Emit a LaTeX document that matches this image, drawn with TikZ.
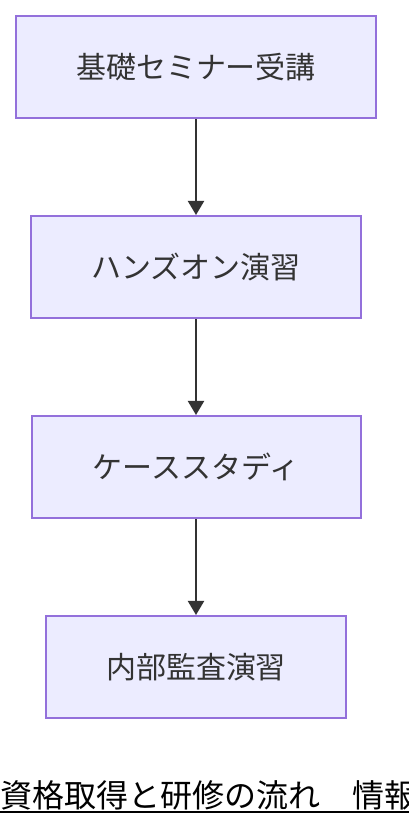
\documentclass[tikz,border=0pt]{standalone}
\usepackage{fontspec}
\setmainfont{Noto Sans CJK JP}
\usetikzlibrary{positioning,arrows.meta}
\definecolor{boxfill}{HTML}{ECECFF}
\definecolor{boxline}{HTML}{9370DB}
\definecolor{ink}{HTML}{333333}
\begin{document}
\begin{tikzpicture}[x=1pt,y=1pt,node distance=96pt,
    procbox/.style={draw=boxline,fill=boxfill,line width=2pt,text=ink,
      font=\fontsize{30}{36}\selectfont,minimum height=102pt,inner xsep=60pt},
    flow/.style={-{Triangle[width=16pt,length=14pt]},draw=ink,line width=2pt}]
      \useasboundingbox (0,0) rectangle (408,828);
      \node[procbox] (0) at (196,761) {基礎セミナー受講};
      \node[procbox,below=of 0] (1) {ハンズオン演習};
      \node[procbox,below=of 1,minimum width=329pt] (2) {ケーススタディ};
      \node[procbox,below=of 2] (3) {内部監査演習};
      \begin{scope}[flow]
        \draw (0) to (1);
        \draw (1) to (2);
        \draw (2) to (3);
      \end{scope}
      \node[anchor=base west,inner sep=0pt,font=\fontsize{32}{38}\selectfont] (caption) at (0,20) {資格取得と研修の流れ　情報};
      \draw[line width=2pt] ([yshift=-4.5pt]caption.base west) -- ([yshift=-4.5pt]caption.base east);
    \end{tikzpicture}
\end{document}
